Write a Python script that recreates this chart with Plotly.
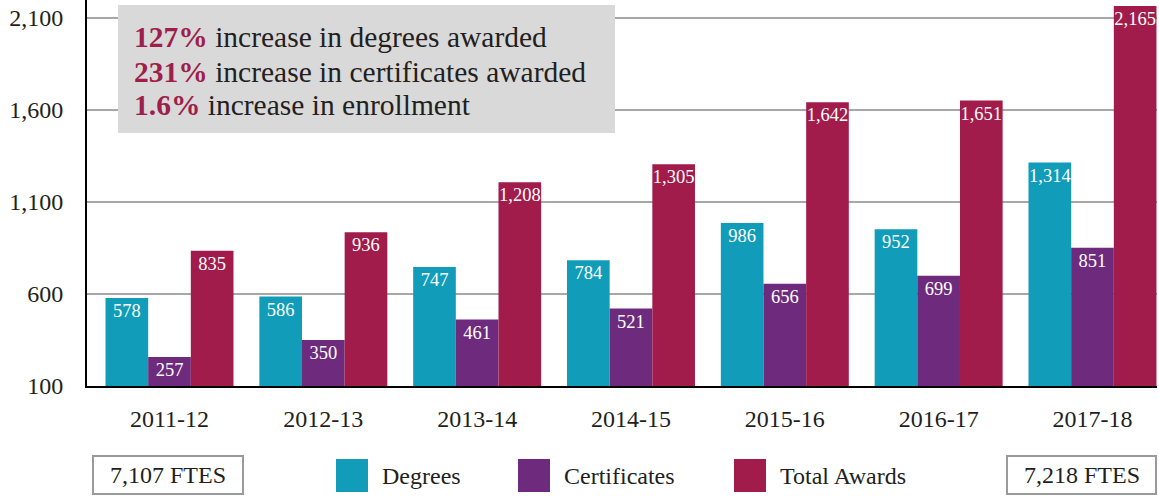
import plotly.graph_objects as go

categories = ["2011-12", "2012-13", "2013-14", "2014-15", "2015-16", "2016-17", "2017-18"]
degrees = [578, 586, 747, 784, 986, 952, 1314]
certificates = [257, 350, 461, 521, 656, 699, 851]
total_awards = [835, 936, 1208, 1305, 1642, 1651, 2165]
series_names = ["Degrees", "Certificates", "Total Awards"]
y_ticks = [100, 600, 1100, 1600, 2100]
y_tick_labels = ["100", "600", "1,100", "1,600", "2,100"]
highlights = [("127%", "increase in degrees awarded"),
              ("231%", "increase in certificates awarded"),
              ("1.6%", "increase in enrollment")]
ftes_labels = ["7,107 FTES", "7,218 FTES"]

COLORS = ["#119DBA", "#6E2B7E", "#A21C4B"]
ACCENT = "#9E1F4A"
TEXT = "#231F20"
FONT = "Liberation Serif"

W, H = 1159, 496
L, R, T, B = 87, 2, 0, 110
PW, PH = W - L - R, H - T - B


def px(x):  # screen x -> paper
    return (x - L) / PW


def py(y):  # screen y -> paper
    return (H - B - y) / PH


fig = go.Figure()
for name, vals, col in zip(series_names, [degrees, certificates, total_awards], COLORS):
    fig.add_trace(go.Bar(
        x=categories, y=[v - 100 for v in vals], base=100, name=name,
        marker=dict(color=col, line=dict(width=0)),
        text=[f"{v:,}" for v in vals], textposition="inside",
        insidetextanchor="end", constraintext="none", textangle=0,
        textfont=dict(family=FONT, size=18.5, color="white"),
        showlegend=False, hoverinfo="skip",
    ))

shapes = []
annotations = []

# highlight box
shapes.append(dict(type="rect", xref="paper", yref="paper",
                   x0=px(118), x1=px(615), y0=py(133), y1=py(5),
                   fillcolor="#D9D9D9", line=dict(width=0), layer="above"))
for (p, t), yc in zip(highlights, [37, 72, 105]):
    annotations.append(dict(xref="paper", yref="paper", x=px(132), y=py(yc),
                            xanchor="left", yanchor="middle", align="left",
                            text=f"<b><span style='color:{ACCENT}'>{p}</span></b> {t}",
                            showarrow=False,
                            font=dict(family=FONT, size=29.5, color=TEXT)))

# legend swatches
sw_x = [336, 518, 734]
for x0, name, col in zip(sw_x, series_names, COLORS):
    shapes.append(dict(type="rect", xref="paper", yref="paper",
                       x0=px(x0), x1=px(x0 + 32), y0=py(492), y1=py(459),
                       fillcolor=col, line=dict(width=0)))
    annotations.append(dict(xref="paper", yref="paper", x=px(x0 + 44), y=py(476),
                            xanchor="left", yanchor="middle", text=name,
                            showarrow=False,
                            font=dict(family=FONT, size=24, color=TEXT)))

# FTES boxes
for (x0, x1), lab in zip([(93, 243), (1007, 1156)], ftes_labels):
    shapes.append(dict(type="rect", xref="paper", yref="paper",
                       x0=px(x0), x1=px(x1), y0=py(494), y1=py(456),
                       fillcolor="white", line=dict(color="#9A9A9A", width=2)))
    annotations.append(dict(xref="paper", yref="paper", x=px((x0 + x1) / 2), y=py(475),
                            xanchor="center", yanchor="middle", text=lab,
                            showarrow=False,
                            font=dict(family=FONT, size=24, color=TEXT)))

spacing = 153.83
r0 = -(169.5 - L) / spacing
r1 = r0 + PW / spacing

fig.update_layout(
    width=W, height=H,
    margin=dict(l=L, r=R, t=T, b=B, pad=0),
    paper_bgcolor="white", plot_bgcolor="white",
    barmode="group", bargap=0.168, bargroupgap=0,
    font=dict(family=FONT, color=TEXT),
    shapes=shapes, annotations=annotations,
    xaxis=dict(type="category", range=[r0, r1], showline=True, linecolor="black",
               linewidth=2, showgrid=False, ticks="", ticklabelstandoff=10,
               tickfont=dict(family=FONT, size=24, color=TEXT)),
    yaxis=dict(range=[100, 100 + PH / 0.184], tickvals=y_ticks, ticktext=y_tick_labels,
               showline=True, linecolor="black", linewidth=2,
               showgrid=True, gridcolor="#A8A8A8", gridwidth=2, zeroline=False,
               ticks="", ticklabelstandoff=17, ticklabeloverflow="allow",
               tickfont=dict(family=FONT, size=24, color=TEXT)),
)

fig.write_html("out.html",
               config={"displayModeBar": False, "staticPlot": True},
               post_script="document.body.style.margin='0';"
                           "document.body.style.overflow='hidden';")
